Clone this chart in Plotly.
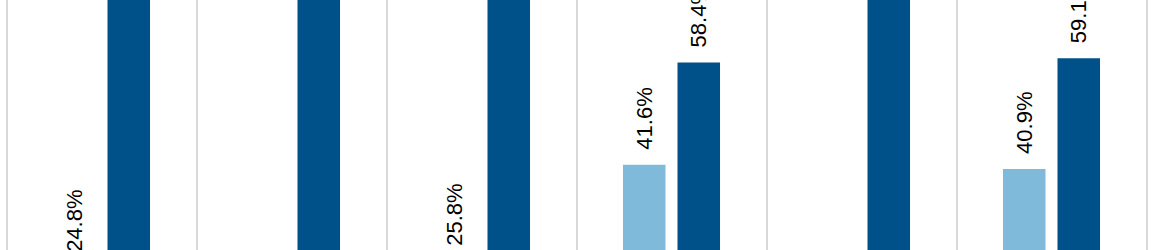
import plotly.graph_objects as go

categories = ["A", "B", "C", "D", "E", "F"]
light_values = [24.8, 9.6, 25.8, 41.6, 11.2, 40.9]
dark_values = [75.2, 90.4, 74.2, 58.4, 88.8, 59.1]

LIGHT = "#80BADA"
DARK = "#00518A"
PAD = "\u00a0\u00a0"


def labels(vals):
    return [PAD + f"{v:.1f}%" for v in vals]


fig = go.Figure()
fig.add_trace(go.Bar(
    x=categories, y=light_values, marker_color=LIGHT, marker_line_width=0,
    text=labels(light_values), textposition="outside", textangle=-90,
    textfont=dict(family="Liberation Sans, Arial", size=22, color="#000000"),
    cliponaxis=True, constraintext="none", name="light",
))
fig.add_trace(go.Bar(
    x=categories, y=dark_values, marker_color=DARK, marker_line_width=0,
    text=labels(dark_values), textposition="outside", textangle=-90,
    textfont=dict(family="Liberation Sans, Arial", size=22, color="#000000"),
    cliponaxis=True, constraintext="none", name="dark",
))

left = -0.5 - 6.5 / 190
fig.update_layout(
    width=1156, height=250,
    margin=dict(l=0, r=0, t=0, b=0),
    paper_bgcolor="white", plot_bgcolor="white",
    barmode="group", bargap=0.426, bargroupgap=0.22,
    showlegend=False,
    xaxis=dict(range=[left, left + 1156 / 190], tickson="boundaries",
               showgrid=True, gridcolor="#d9d9d9", gridwidth=2,
               showticklabels=False, ticks="", showline=False, zeroline=False),
    yaxis=dict(range=[27.61, 68.69], showgrid=False, showticklabels=False,
               ticks="", showline=False, zeroline=False),
)

fig.write_html("out.html")
